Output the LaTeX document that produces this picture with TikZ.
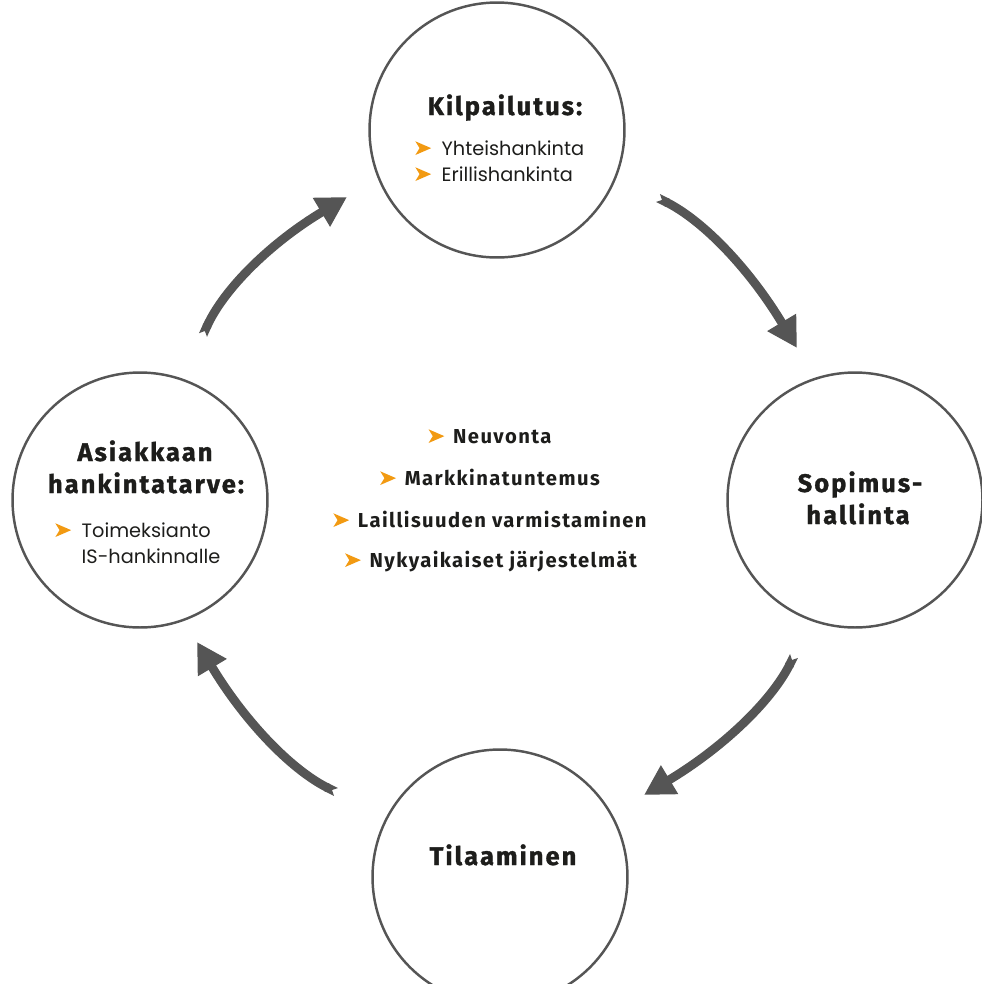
\documentclass[tikz,border=0pt]{standalone}
\usepackage{fontspec}
\setmainfont{Poppins}
\newfontfamily\hfont[LetterSpace=7]{Fira Sans}
\newfontfamily\hfontb[LetterSpace=8,FakeBold=1.2]{Fira Sans Bold}
\usetikzlibrary{arrows.meta}
\definecolor{gr}{HTML}{555555}
\definecolor{org}{HTML}{F29A12}
\definecolor{txt}{HTML}{1D1D1B}
\newcommand\bul{\tikz[baseline=0pt]\fill[org] (0pt,0pt) -- (9pt,3.9pt) -- (0pt,7.8pt) -- (2.4pt,3.9pt) -- cycle;}
\begin{document}
\begin{tikzpicture}[x=0.02cm,y=-0.02cm,
  circ/.style={circle, draw=gr, line width=1.4pt, minimum size=5.1cm, inner sep=0pt},
  head/.style={anchor=base, text=txt, font=\hfontb\fontsize{14.5}{17}\selectfont, inner sep=0pt},
  mid/.style={anchor=base, text=txt, font=\hfont\bfseries\fontsize{11.5}{14}\selectfont, inner sep=0pt},
  body/.style={anchor=base west, text=txt, font=\fontsize{11}{13}\selectfont, inner sep=0pt},
  arr/.style={draw=gr, line width=5pt, {Triangle Cap[reversed]}-{Triangle[length=17pt,width=18pt]}}]
\useasboundingbox (0,0) rectangle (982,984);
% circles
\node[circ] (ctop) at (497,130) {};
\node[circ] (cright) at (855,500) {};
\node[circ] (cbottom) at (500,877) {};
\node[circ] (cleft) at (140,500) {};
% top circle text
\node[head] (t1) at (505,115) {Kilpailutus:};
\node[body] (t2) at (415,155) {\bul\hspace{6pt}Yhteishankinta};
\node[body] (t3) at (415,181) {\bul\hspace{6pt}Erillishankinta};
% left circle text
\node[head] (l1) at (145,461) {Asiakkaan};
\node[head] (l2) at (146,493) {hankintatarve:};
\node[body] (l3) at (55,537) {\bul\hspace{6pt}Toimeksianto};
\node[body] (l4) at (55,563) {\phantom{\bul\hspace{6pt}}IS-hankinnalle};
% right circle text
\node[head] (r1) at (860,492) {Sopimus-};
\node[head] (r2) at (858,524) {hallinta};
% bottom circle text
\node[head] (b1) at (503,865) {Tilaaminen};
% center list
\node[mid] (m1) at (490,443) {\bul\hspace{5pt}Neuvonta};
\node[mid] (m2) at (490,485) {\bul\hspace{5pt}Markkinatuntemus};
\node[mid] (m3) at (490,527) {\bul\hspace{5pt}Laillisuuden varmistaminen};
\node[mid] (m4) at (491,567) {\bul\hspace{5pt}Nykyaikaiset järjestelmät};
% arrows
\coordinate (a1) at (658,198); \coordinate (e1) at (797,348);
\coordinate (a2) at (794,656); \coordinate (e2) at (644,795);
\coordinate (a3) at (336,792); \coordinate (e3) at (197,642);
\coordinate (a4) at (203,335); \coordinate (e4) at (347,197);
\draw[arr] (a1) .. controls (704.7,221.3) and (751,271.3) .. (e1);
\draw[arr] (a2) .. controls (770.7,702.7) and (720.7,749) .. (e2);
\draw[arr] (a3) .. controls (289.3,768.7) and (243,718.7) .. (e3);
\draw[arr] (a4) .. controls (224.3,287.7) and (272.3,241.7) .. (e4);
\end{tikzpicture}
\end{document}
